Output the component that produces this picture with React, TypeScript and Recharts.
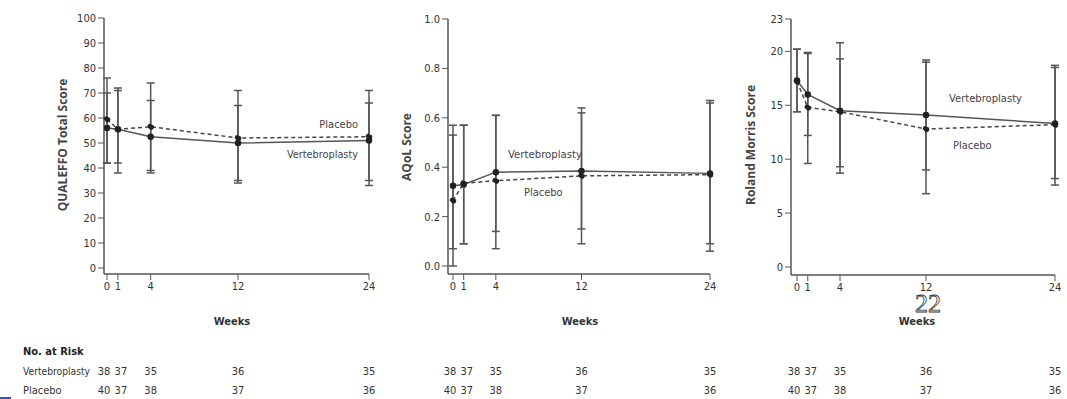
import { LineChart, Line, XAxis, YAxis, ErrorBar } from 'recharts';

// weeks of follow-up
const weeks = [0, 1, 4, 12, 24];

// QUALEFFO total score
const qVert = [56, 55.5, 52.5, 50, 51];
const qVertLow = [42, 42, 39, 35, 35];
const qVertHigh = [70, 71, 67, 65, 66];
const qPlac = [59.5, 55.5, 56.5, 52, 52.5];
const qPlacLow = [42, 38, 38, 34, 33];
const qPlacHigh = [76, 72, 74, 71, 71];

// AQoL score
const aVert = [0.325, 0.33, 0.38, 0.385, 0.375];
const aVertLow = [0.07, 0.09, 0.14, 0.15, 0.09];
const aVertHigh = [0.57, 0.57, 0.61, 0.62, 0.66];
const aPlac = [0.265, 0.335, 0.345, 0.365, 0.37];
const aPlacLow = [0.0, 0.09, 0.07, 0.09, 0.06];
const aPlacHigh = [0.53, 0.57, 0.61, 0.64, 0.67];

// Roland Morris score
const rVert = [17.3, 16.0, 14.5, 14.1, 13.3];
const rVertLow = [14.4, 12.2, 9.3, 9.0, 8.2];
const rVertHigh = [20.2, 19.8, 19.3, 19.0, 18.5];
const rPlac = [17.2, 14.8, 14.4, 12.8, 13.2];
const rPlacLow = [14.4, 9.6, 8.7, 6.8, 7.6];
const rPlacHigh = [20.2, 19.9, 20.8, 19.2, 18.7];

// y ticks
const qTicks = [0, 10, 20, 30, 40, 50, 60, 70, 80, 90, 100];
const aTicks = [0, 0.2, 0.4, 0.6, 0.8, 1.0];
const rTicks = [0, 5, 10, 15, 20, 23];

// no. at risk
const vertRisk = [38, 37, 35, 36, 35];
const placRisk = [40, 37, 38, 37, 36];

const narrow = "'DejaVu Sans Condensed', 'Liberation Sans', sans-serif";
const serif = "'Liberation Serif', serif";
const sans = "'Open Sans', 'DejaVu Sans', sans-serif";
const CH = 340;

const rows = (v: number[], vl: number[], vh: number[], p: number[], pl: number[], ph: number[]) =>
  weeks.map((w, i) => ({
    week: w,
    v: v[i],
    vErr: [v[i] - vl[i], vh[i] - v[i]],
    p: p[i],
    pErr: [p[i] - pl[i], ph[i] - p[i]],
  }));

const panels = [
  {
    left: 0, width: 380, axisX: 104, endX: 369, top: 18, axisY: 274, padL: 3, padB: 6,
    domain: [0, 100], ticks: qTicks, fmt: (t: number) => String(t),
    data: rows(qVert, qVertLow, qVertHigh, qPlac, qPlacLow, qPlacHigh),
    title: 'QUALEFFO Total Score', titleX: 64, titleY: 145, weeksX: 232,
  },
  {
    left: 360, width: 360, axisX: 448, endX: 710, top: 19, axisY: 274, padL: 5, padB: 8,
    domain: [0, 1], ticks: aTicks, fmt: (t: number) => t.toFixed(1),
    data: rows(aVert, aVertLow, aVertHigh, aPlac, aPlacLow, aPlacHigh),
    title: 'AQoL Score', titleX: 408, titleY: 147, weeksX: 580,
  },
  {
    left: 720, width: 347, axisX: 791, endX: 1055, top: 19, axisY: 275, padL: 6, padB: 8,
    domain: [0, 23], ticks: rTicks, fmt: (t: number) => String(t),
    data: rows(rVert, rVertLow, rVertHigh, rPlac, rPlacLow, rPlacHigh),
    title: 'Roland Morris Score', titleX: 752, titleY: 145, weeksX: 917,
  },
];

const weekPx = (p: typeof panels[number], w: number) =>
  p.axisX + p.padL + (w / 24) * (p.endX - p.axisX - p.padL);

const riskAdj = [-3, 3, 0, 0, 0];

const Panel = ({ p }: { p: typeof panels[number] }) => (
  <div style={{ position: 'absolute', left: p.left, top: 0 }}>
    <LineChart
      width={p.width}
      height={CH}
      data={p.data}
      margin={{ top: p.top, right: p.left + p.width - p.endX, left: p.axisX - p.left - 60, bottom: CH - p.axisY - 30 }}
    >
      <XAxis
        type="number"
        dataKey="week"
        domain={[0, 24]}
        ticks={weeks}
        interval={0}
        height={30}
        padding={{ left: p.padL, right: 0 }}
        tickSize={6}
        axisLine={{ stroke: '#555', strokeWidth: 1.5 }}
        tickLine={{ stroke: '#555' }}
        tick={{ fontSize: 11, fill: '#333', fontFamily: narrow }}
      />
      <YAxis
        type="number"
        domain={p.domain}
        ticks={p.ticks}
        interval={0}
        width={60}
        padding={{ top: 0, bottom: p.padB }}
        tickSize={6}
        tickFormatter={p.fmt}
        axisLine={{ stroke: '#555', strokeWidth: 1.5 }}
        tickLine={{ stroke: '#555' }}
        tick={{ fontSize: 11, fill: '#333', fontFamily: narrow }}
      />
      <Line
        type="linear"
        dataKey="p"
        stroke="#444"
        strokeWidth={1.5}
        strokeDasharray="4 3"
        dot={{ r: 2.5, fill: '#222', stroke: '#222' }}
        isAnimationActive={false}
      >
        <ErrorBar dataKey="pErr" width={4} stroke="#555" strokeWidth={1.5} isAnimationActive={false} />
      </Line>
      <Line
        type="linear"
        dataKey="v"
        stroke="#555"
        strokeWidth={1.5}
        dot={{ r: 2.5, fill: '#222', stroke: '#222' }}
        isAnimationActive={false}
      >
        <ErrorBar dataKey="vErr" width={4} stroke="#555" strokeWidth={1.5} isAnimationActive={false} />
      </Line>
    </LineChart>
  </div>
);

export default function App() {
  return (
    <div style={{ position: 'absolute', left: 0, top: 0, width: 1067, height: 399, background: '#fff', overflow: 'hidden' }}>
      {panels.map((p, i) => (
        <Panel key={i} p={p} />
      ))}
      <svg width={1067} height={399} style={{ position: 'absolute', left: 0, top: 0, pointerEvents: 'none' }}>
        {panels.map((p, i) => (
          <g key={i}>
            <text
              transform={`translate(${p.titleX},${p.titleY}) rotate(-90)`}
              textAnchor="middle"
              dominantBaseline="middle"
              fontFamily={sans}
              fontWeight="bold"
              fontSize={12}
              fill="#444"
            >
              {p.title}
            </text>
            <text x={p.weeksX} y={322} textAnchor="middle" dominantBaseline="middle" fontFamily={narrow} fontWeight="bold" fontSize={11} fill="#333">
              Weeks
            </text>
            {weeks.map((w, j) => (
              <g key={j}>
                <text x={weekPx(p, w) + riskAdj[j]} y={372} textAnchor="middle" dominantBaseline="middle" fontFamily={narrow} fontSize={11} fill="#333">
                  {vertRisk[j]}
                </text>
                <text x={weekPx(p, w) + riskAdj[j]} y={391} textAnchor="middle" dominantBaseline="middle" fontFamily={narrow} fontSize={11} fill="#333">
                  {placRisk[j]}
                </text>
              </g>
            ))}
          </g>
        ))}
        <g fontFamily={narrow} fontSize={11} fill="#444" dominantBaseline="middle">
          <text x={358} y={125} textAnchor="end">Placebo</text>
          <text x={287} y={155} textLength={71} lengthAdjust="spacingAndGlyphs">Vertebroplasty</text>
          <text x={508} y={155} textLength={74} lengthAdjust="spacingAndGlyphs">Vertebroplasty</text>
          <text x={524} y={193}>Placebo</text>
          <text x={949} y={99} textLength={73} lengthAdjust="spacingAndGlyphs">Vertebroplasty</text>
          <text x={953} y={146}>Placebo</text>
        </g>
        <text x={23} y={352} dominantBaseline="middle" fontFamily={narrow} fontWeight="bold" fontSize={11} fill="#222">No. at Risk</text>
        <text x={23} y={372} dominantBaseline="middle" fontFamily={narrow} fontSize={11} fill="#333" textLength={67} lengthAdjust="spacingAndGlyphs">Vertebroplasty</text>
        <text x={23} y={391} dominantBaseline="middle" fontFamily={narrow} fontSize={11} fill="#333">Placebo</text>
        <text x={928} y={312} textAnchor="middle" fontFamily={serif} fontSize={26} fill="#fff" stroke="#333" strokeWidth={0.8}>22</text>
        <line x1={0} y1={398} x2={11} y2={398} stroke="#3355cc" strokeWidth={2} />
      </svg>
    </div>
  );
}
